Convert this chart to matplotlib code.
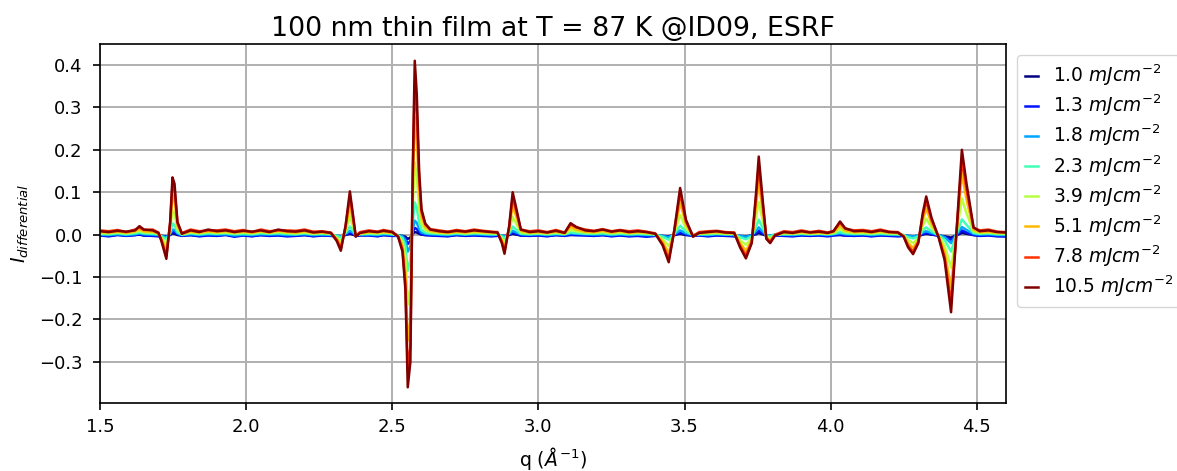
import numpy as np
import matplotlib.pyplot as plt

# q grid (1/A) the curves were read at
q = [1.50, 1.53, 1.56, 1.59, 1.62, 1.635, 1.65, 1.68, 1.70,
     1.71, 1.727, 1.74, 1.748, 1.755, 1.765, 1.78,
     1.81, 1.84, 1.87, 1.90, 1.93, 1.96, 1.99, 2.02, 2.05, 2.08, 2.11, 2.14, 2.17, 2.20, 2.23, 2.26, 2.29,
     2.31, 2.324, 2.34, 2.355, 2.365, 2.375, 2.39,
     2.42, 2.45, 2.47, 2.50,
     2.52, 2.535, 2.545, 2.553, 2.562, 2.570, 2.577, 2.584, 2.592, 2.60, 2.613, 2.63,
     2.66, 2.69, 2.72, 2.75, 2.78, 2.81, 2.84, 2.86,
     2.875, 2.884, 2.90, 2.912, 2.925, 2.94,
     2.97, 3.00, 3.03, 3.06, 3.09,
     3.11, 3.13,
     3.16, 3.19, 3.22, 3.25, 3.28, 3.31, 3.34, 3.37, 3.40,
     3.425, 3.446, 3.465, 3.485, 3.505, 3.529, 3.55,
     3.58, 3.61, 3.64, 3.67,
     3.69, 3.71, 3.73, 3.745, 3.754, 3.765, 3.78, 3.793, 3.81,
     3.84, 3.87, 3.90, 3.93, 3.96, 3.99, 4.01,
     4.032, 4.05,
     4.08, 4.11, 4.14, 4.17, 4.20, 4.23, 4.25,
     4.265, 4.282, 4.30, 4.315, 4.327, 4.345,
     4.37, 4.39, 4.412, 4.43, 4.449, 4.465, 4.489,
     4.51, 4.54, 4.57, 4.60]

fluences = ["1.0", "1.3", "1.8", "2.3", "3.9", "5.1", "7.8", "10.5"]

I_10 = [-0.001, -0.003, 0.000, -0.002, -0.001, 0.000, -0.002, -0.002, -0.003,
        -0.003, -0.004, -0.001, 0.003, 0.002, -0.001, -0.002,
        -0.001, -0.003, -0.001, -0.002, 0.000, -0.003, -0.001, -0.003, -0.001, -0.002, -0.001, -0.003, -0.002, -0.001, -0.003, -0.001, -0.002,
        -0.003, -0.004, -0.001, 0.002, 0.000, -0.002, -0.001,
        -0.001, -0.003, -0.001, -0.002,
        -0.002, -0.003, -0.005, -0.010, -0.007, 0.002, 0.006, 0.005, 0.002, 0.000, -0.001, -0.001,
        -0.002, -0.003, -0.001, -0.002, -0.001, -0.002, -0.003, -0.002,
        -0.003, -0.003, -0.001, 0.002, 0.000, -0.002,
        -0.002, -0.001, -0.003, -0.001, -0.002,
        -0.001, -0.001,
        -0.001, -0.002, -0.001, -0.003, -0.001, -0.003, -0.002, -0.003, -0.002,
        -0.003, -0.004, -0.001, 0.002, -0.001, -0.002, -0.001,
        -0.003, -0.001, -0.002, -0.003,
        -0.003, -0.004, -0.002, 0.001, 0.004, 0.001, -0.002, -0.003, -0.001,
        -0.002, -0.003, -0.001, -0.002, -0.001, -0.003, -0.001,
        -0.001, -0.002,
        -0.002, -0.001, -0.003, -0.001, -0.002, -0.003, -0.002,
        -0.003, -0.004, -0.003, 0.000, 0.002, 0.000,
        -0.002, -0.004, -0.007, -0.002, 0.004, 0.002, -0.001,
        -0.002, -0.001, -0.003, -0.004]

I_13 = [-0.002, -0.004, -0.001, -0.003, -0.001, 0.001, -0.002, -0.003, -0.004,
        -0.004, -0.006, 0.000, 0.007, 0.006, 0.001, -0.003,
        -0.001, -0.004, -0.002, -0.003, -0.001, -0.005, -0.002, -0.004, -0.001, -0.003, -0.002, -0.004, -0.003, -0.001, -0.004, -0.002, -0.003,
        -0.004, -0.005, 0.000, 0.005, 0.002, -0.003, -0.002,
        -0.002, -0.004, -0.001, -0.003,
        -0.003, -0.004, -0.009, -0.022, -0.015, 0.006, 0.016, 0.013, 0.006, 0.001, -0.001, -0.002,
        -0.003, -0.004, -0.001, -0.003, -0.002, -0.003, -0.004, -0.003,
        -0.004, -0.005, 0.000, 0.005, 0.002, -0.002,
        -0.003, -0.002, -0.004, -0.001, -0.003,
        0.000, -0.001,
        -0.002, -0.003, -0.001, -0.004, -0.002, -0.004, -0.003, -0.005, -0.003,
        -0.004, -0.006, -0.001, 0.005, 0.000, -0.003, -0.002,
        -0.004, -0.002, -0.003, -0.004,
        -0.005, -0.006, -0.003, 0.004, 0.009, 0.004, -0.003, -0.004, -0.002,
        -0.003, -0.004, -0.002, -0.003, -0.002, -0.004, -0.002,
        0.000, -0.002,
        -0.003, -0.002, -0.004, -0.002, -0.003, -0.004, -0.003,
        -0.004, -0.005, -0.004, 0.001, 0.004, 0.001,
        -0.003, -0.006, -0.012, -0.002, 0.010, 0.005, -0.001,
        -0.003, -0.002, -0.004, -0.004]

I_18 = [0.000, -0.001, 0.001, -0.001, 0.001, 0.003, 0.001, 0.000, -0.001,
        -0.003, -0.006, 0.002, 0.012, 0.011, 0.003, -0.001,
        0.001, -0.001, 0.001, 0.000, 0.001, -0.002, 0.000, -0.001, 0.001, 0.000, 0.001, -0.001, 0.000, 0.001, -0.001, 0.000, -0.001,
        -0.002, -0.004, 0.002, 0.009, 0.005, -0.001, 0.000,
        0.000, -0.001, 0.001, 0.000,
        -0.001, -0.004, -0.013, -0.040, -0.028, 0.013, 0.033, 0.028, 0.013, 0.005, 0.002, 0.001,
        0.000, -0.001, 0.001, 0.000, 0.001, 0.000, -0.001, 0.000,
        -0.002, -0.004, 0.002, 0.009, 0.005, 0.001,
        0.000, 0.001, -0.001, 0.001, 0.000,
        0.003, 0.002,
        0.001, 0.000, 0.001, -0.001, 0.001, -0.001, 0.000, -0.001, -0.001,
        -0.003, -0.006, 0.001, 0.010, 0.003, -0.001, 0.000,
        -0.001, 0.001, 0.000, -0.001,
        -0.003, -0.005, -0.002, 0.009, 0.017, 0.009, -0.001, -0.002, 0.000,
        0.000, -0.001, 0.001, 0.000, 0.001, -0.001, 0.001,
        0.003, 0.001,
        0.000, 0.001, -0.001, 0.001, 0.000, -0.001, -0.001,
        -0.003, -0.004, -0.002, 0.005, 0.008, 0.004,
        -0.001, -0.006, -0.020, 0.000, 0.018, 0.011, 0.002,
        0.000, 0.001, -0.001, -0.001]

I_23 = [0.002, 0.001, 0.003, 0.001, 0.003, 0.005, 0.003, 0.002, 0.001,
        -0.004, -0.011, 0.005, 0.026, 0.023, 0.006, 0.000,
        0.003, 0.001, 0.003, 0.002, 0.003, 0.001, 0.002, 0.001, 0.003, 0.002, 0.003, 0.002, 0.001, 0.003, 0.001, 0.002, 0.001,
        -0.003, -0.007, 0.004, 0.019, 0.010, -0.001, 0.001,
        0.002, 0.001, 0.003, 0.001,
        -0.002, -0.008, -0.027, -0.085, -0.060, 0.028, 0.076, 0.062, 0.028, 0.011, 0.005, 0.003,
        0.002, 0.001, 0.003, 0.001, 0.003, 0.002, 0.001, 0.001,
        -0.004, -0.009, 0.004, 0.019, 0.011, 0.002,
        0.001, 0.002, 0.001, 0.002, 0.001,
        0.005, 0.004,
        0.002, 0.002, 0.003, 0.001, 0.002, 0.001, 0.002, 0.001, 0.000,
        -0.005, -0.012, 0.002, 0.021, 0.007, -0.001, 0.001,
        0.001, 0.002, 0.001, 0.001,
        -0.006, -0.011, -0.004, 0.019, 0.035, 0.019, -0.002, -0.004, 0.000,
        0.001, 0.001, 0.002, 0.001, 0.002, 0.001, 0.002,
        0.006, 0.003,
        0.002, 0.002, 0.001, 0.002, 0.001, 0.001, -0.001,
        -0.006, -0.009, -0.004, 0.010, 0.017, 0.008,
        -0.002, -0.012, -0.040, 0.000, 0.036, 0.023, 0.004,
        0.002, 0.003, 0.001, 0.001]

I_39 = [0.004, 0.003, 0.005, 0.003, 0.006, 0.009, 0.005, 0.005, 0.002,
        -0.007, -0.024, 0.012, 0.057, 0.050, 0.013, 0.001,
        0.005, 0.003, 0.006, 0.004, 0.005, 0.003, 0.005, 0.003, 0.006, 0.004, 0.006, 0.004, 0.003, 0.005, 0.002, 0.004, 0.002,
        -0.007, -0.016, 0.008, 0.043, 0.021, -0.002, 0.002,
        0.004, 0.003, 0.005, 0.003,
        -0.003, -0.017, -0.055, -0.165, -0.125, 0.062, 0.170, 0.138, 0.063, 0.025, 0.011, 0.006,
        0.004, 0.003, 0.005, 0.003, 0.005, 0.004, 0.003, 0.002,
        -0.009, -0.019, 0.008, 0.042, 0.025, 0.005,
        0.003, 0.004, 0.002, 0.005, 0.002,
        0.011, 0.008,
        0.005, 0.004, 0.006, 0.003, 0.005, 0.003, 0.004, 0.003, 0.001,
        -0.011, -0.027, 0.004, 0.046, 0.015, -0.002, 0.002,
        0.003, 0.004, 0.002, 0.002,
        -0.013, -0.024, -0.009, 0.042, 0.077, 0.042, -0.004, -0.009, -0.001,
        0.003, 0.002, 0.004, 0.002, 0.003, 0.002, 0.004,
        0.013, 0.006,
        0.004, 0.004, 0.003, 0.005, 0.003, 0.002, -0.002,
        -0.013, -0.020, -0.009, 0.021, 0.038, 0.017,
        -0.003, -0.026, -0.078, 0.000, 0.085, 0.050, 0.008,
        0.004, 0.005, 0.003, 0.002]

I_51 = [0.006, 0.005, 0.007, 0.005, 0.008, 0.013, 0.008, 0.007, 0.003,
        -0.010, -0.039, 0.020, 0.092, 0.082, 0.021, 0.002,
        0.007, 0.005, 0.008, 0.006, 0.008, 0.005, 0.007, 0.005, 0.008, 0.005, 0.009, 0.006, 0.005, 0.008, 0.004, 0.005, 0.003,
        -0.010, -0.026, 0.014, 0.069, 0.034, -0.003, 0.003,
        0.006, 0.005, 0.007, 0.004,
        -0.004, -0.027, -0.088, -0.250, -0.205, 0.100, 0.277, 0.225, 0.102, 0.041, 0.018, 0.009,
        0.006, 0.004, 0.007, 0.005, 0.008, 0.006, 0.005, 0.004,
        -0.014, -0.031, 0.014, 0.068, 0.041, 0.009,
        0.005, 0.006, 0.004, 0.007, 0.003,
        0.018, 0.012,
        0.007, 0.006, 0.009, 0.005, 0.008, 0.004, 0.006, 0.005, 0.002,
        -0.017, -0.044, 0.007, 0.075, 0.024, -0.003, 0.003,
        0.005, 0.006, 0.004, 0.003,
        -0.020, -0.038, -0.014, 0.068, 0.125, 0.068, -0.007, -0.014, -0.001,
        0.005, 0.003, 0.006, 0.004, 0.005, 0.003, 0.006,
        0.021, 0.010,
        0.006, 0.007, 0.005, 0.008, 0.005, 0.004, -0.003,
        -0.020, -0.031, -0.014, 0.034, 0.061, 0.027,
        -0.005, -0.041, -0.125, 0.000, 0.144, 0.082, 0.012,
        0.006, 0.007, 0.005, 0.004]

I_78 = [0.010, 0.008, 0.011, 0.006, 0.012, 0.017, 0.011, 0.012, 0.005,
        -0.012, -0.050, 0.026, 0.118, 0.106, 0.028, 0.004,
        0.012, 0.008, 0.010, 0.010, 0.012, 0.008, 0.011, 0.006, 0.012, 0.008, 0.010, 0.010, 0.009, 0.012, 0.007, 0.008, 0.005,
        -0.012, -0.033, 0.018, 0.090, 0.045, -0.003, 0.006,
        0.010, 0.007, 0.011, 0.007,
        -0.004, -0.035, -0.115, -0.320, -0.265, 0.130, 0.360, 0.290, 0.132, 0.054, 0.024, 0.013,
        0.010, 0.007, 0.011, 0.008, 0.012, 0.009, 0.007, 0.006,
        -0.017, -0.040, 0.018, 0.088, 0.053, 0.012,
        0.008, 0.010, 0.006, 0.011, 0.005,
        0.024, 0.017,
        0.012, 0.009, 0.013, 0.008, 0.011, 0.008, 0.010, 0.007, 0.003,
        -0.022, -0.057, 0.009, 0.097, 0.031, -0.003, 0.006,
        0.008, 0.009, 0.006, 0.005,
        -0.026, -0.049, -0.017, 0.088, 0.162, 0.088, -0.008, -0.017, 0.000,
        0.008, 0.006, 0.010, 0.006, 0.009, 0.005, 0.009,
        0.028, 0.014,
        0.010, 0.011, 0.008, 0.012, 0.007, 0.006, -0.004,
        -0.026, -0.040, -0.017, 0.044, 0.079, 0.035,
        -0.006, -0.053, -0.161, 0.000, 0.176, 0.106, 0.016,
        0.010, 0.012, 0.007, 0.006]

I_105 = [0.008, 0.006, 0.009, 0.007, 0.010, 0.020, 0.012, 0.010, 0.004,
         -0.015, -0.057, 0.030, 0.135, 0.120, 0.030, 0.002,
         0.010, 0.006, 0.012, 0.008, 0.010, 0.006, 0.009, 0.007, 0.010, 0.006, 0.012, 0.008, 0.007, 0.010, 0.005, 0.007, 0.004,
         -0.015, -0.038, 0.020, 0.102, 0.050, -0.005, 0.004,
         0.008, 0.006, 0.009, 0.006,
         -0.005, -0.040, -0.130, -0.360, -0.300, 0.150, 0.410, 0.330, 0.150, 0.060, 0.026, 0.012,
         0.008, 0.006, 0.009, 0.007, 0.010, 0.008, 0.006, 0.005,
         -0.020, -0.045, 0.020, 0.100, 0.060, 0.012,
         0.006, 0.008, 0.005, 0.009, 0.004,
         0.027, 0.018,
         0.010, 0.008, 0.012, 0.007, 0.010, 0.006, 0.008, 0.006, 0.002,
         -0.025, -0.065, 0.010, 0.110, 0.035, -0.005, 0.004,
         0.006, 0.008, 0.005, 0.004,
         -0.030, -0.056, -0.020, 0.100, 0.184, 0.100, -0.010, -0.020, -0.002,
         0.006, 0.004, 0.008, 0.005, 0.007, 0.004, 0.008,
         0.031, 0.015,
         0.008, 0.009, 0.006, 0.010, 0.006, 0.005, -0.005,
         -0.030, -0.046, -0.020, 0.050, 0.090, 0.040,
         -0.008, -0.060, -0.183, 0.000, 0.200, 0.120, 0.017,
         0.008, 0.010, 0.006, 0.005]

curves = [I_10, I_13, I_18, I_23, I_39, I_51, I_78, I_105]

fig = plt.figure(figsize=(11.77, 4.71), dpi=100)
ax = fig.add_axes([100/1177, 1 - 403/471, 906/1177, 359/471])

cmap = plt.get_cmap('jet')
for i in range(len(curves)):
    ax.plot(q, curves[i], color=cmap(i / (len(curves) - 1)), lw=1.8,
            label=fluences[i] + r" $mJcm^{-2}$")

ax.set_xlim(1.5, 4.6)
ax.set_ylim(-0.397, 0.4495)
ax.set_xticks(np.arange(1.5, 4.51, 0.5))
ax.grid(True, color='#b0b0b0', lw=1.4)
ax.tick_params(labelsize=13, length=5, width=1.2)
ax.tick_params(axis='y', pad=7.5)
ax.tick_params(axis='x', pad=6)
for sp in ax.spines.values():
    sp.set_linewidth(1.2)

ax.set_title("100 nm thin film at T = 87 K @ID09, ESRF", fontsize=19.3)
ax.set_xlabel(r"q ($\AA^{-1}$)", fontsize=13.6, labelpad=6)
ax.set_ylabel(r"$I_{differential}$", fontsize=13.6, labelpad=6)
ax.legend(loc='upper left', bbox_to_anchor=(1.0, 1.0), fontsize=13.4,
          handlelength=0.7, borderaxespad=0.6, labelspacing=0.25)

plt.savefig("out.png", dpi=100)
